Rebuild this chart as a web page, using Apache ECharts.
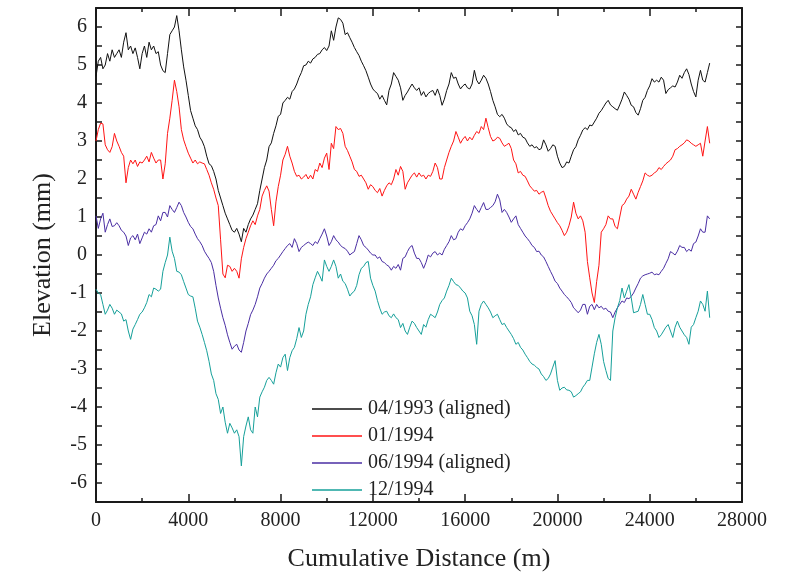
<!DOCTYPE html>
<html>
<head>
<meta charset="utf-8">
<script src="https://cdn.jsdelivr.net/npm/echarts@6/dist/echarts.min.js"></script>
<style>
  html, body { margin: 0; padding: 0; background: #fff; }
  #chart { width: 787px; height: 577px; }
</style>
</head>
<body>
<div id="chart"></div>
<script>
// distances are sampled every 100 m from 0 m
const stepM = 100;
const seriesNames = ["04/1993 (aligned)", "01/1994", "06/1994 (aligned)", "12/1994"];
const seriesColors = ["#111111", "#ff1414", "#4a2ea3", "#16a09a"];

const apr1993 = [
  4.7, 5.1, 5.2, 4.9, 5.0, 5.3, 5.1, 5.4, 5.2, 5.3,
  5.4, 5.2, 5.6, 5.85, 5.4, 5.5, 5.3, 5.45, 5.2, 4.9,
  5.3, 5.5, 5.2, 5.6, 5.4, 5.5, 5.3, 5.35, 5.0, 4.85,
  4.8, 5.3, 5.8, 5.9, 6.0, 6.3, 5.9, 5.4, 4.95, 4.6,
  4.2, 3.8, 3.6, 3.4, 3.3, 3.1, 3.0, 2.85, 2.6, 2.4,
  2.35, 2.2, 2.0, 1.7, 1.5, 1.3, 1.1, 0.95, 0.8, 0.65,
  0.6, 0.7, 0.55, 0.35, 0.7, 0.6, 0.8, 0.95, 1.05, 1.2,
  1.35, 1.7, 2.0, 2.3, 2.5, 2.85, 2.95, 3.2, 3.4, 3.65,
  3.7, 4.0, 4.07, 4.15, 4.1, 4.3, 4.37, 4.5, 4.67, 4.8,
  4.98, 5.0, 5.1, 5.05, 5.16, 5.2, 5.28, 5.3, 5.4, 5.46,
  5.38, 5.5, 5.9, 5.65, 6.0, 6.24, 6.2, 6.1, 5.8, 5.85,
  5.72, 5.6, 5.46, 5.35, 5.25, 5.1, 4.98, 4.85, 4.68, 4.5,
  4.37, 4.3, 4.25, 4.1, 4.2, 4.07, 3.95, 4.33, 4.5, 4.8,
  4.7, 4.6, 4.4, 4.07, 4.2, 4.29, 4.4, 4.5, 4.4, 4.33,
  4.4, 4.2, 4.3, 4.16, 4.25, 4.3, 4.33, 4.2, 4.37, 4.2,
  3.94, 4.1, 4.33, 4.5, 4.8, 4.65, 4.68, 4.5, 4.37, 4.45,
  4.5, 4.4, 4.37, 4.5, 4.86, 4.6, 4.5, 4.6, 4.73, 4.65,
  4.5, 4.3, 4.07, 3.9, 3.7, 3.64, 3.7, 3.6, 3.45, 3.38,
  3.35, 3.25, 3.3, 3.16, 3.2, 3.1, 3.07, 2.95, 2.86, 2.9,
  2.82, 2.85, 2.77, 2.8, 3.03, 2.9, 2.73, 2.8, 2.9, 2.86,
  2.6, 2.42, 2.3, 2.33, 2.45, 2.42, 2.6, 2.77, 2.85, 3.03,
  3.15, 3.29, 3.35, 3.3, 3.42, 3.4, 3.5, 3.6, 3.73, 3.8,
  3.9, 4.0, 4.07, 3.95, 3.9, 3.85, 3.81, 3.95, 4.1, 4.29,
  4.2, 4.1, 3.94, 3.9, 3.75, 3.68, 3.85, 4.07, 4.15, 4.33,
  4.45, 4.64, 4.55, 4.6, 4.55, 4.68, 4.6, 4.25, 4.35, 4.4,
  4.45, 4.42, 4.55, 4.73, 4.65, 4.8, 4.9, 4.75, 4.5, 4.3,
  4.16, 4.6, 4.86, 4.6, 4.55, 4.8, 5.05
];

const jan1994 = [
  3.0, 3.3, 3.47, 3.45, 2.9, 2.77, 2.7, 2.85, 3.2, 3.0,
  2.86, 2.7, 2.6, 1.9, 2.3, 2.5, 2.4, 2.5, 2.33, 2.45,
  2.42, 2.5, 2.6, 2.45, 2.7, 2.55, 2.42, 2.5, 2.5, 2.0,
  2.4, 3.2, 3.6, 4.07, 4.6, 4.3, 3.9, 3.3, 3.03, 2.85,
  2.68, 2.55, 2.42, 2.5, 2.4, 2.45, 2.42, 2.4, 2.25, 2.1,
  1.9, 1.73, 1.5, 1.3, 0.4, -0.5, -0.6, -0.27, -0.3, -0.43,
  -0.35, -0.43, -0.61, -0.1, 0.2, 0.43, 0.6, 0.77, 0.9, 0.8,
  1.03, 1.2, 1.55, 1.7, 1.82, 1.68, 1.2, 0.77, 1.4, 1.8,
  2.1, 2.5, 2.65, 2.86, 2.6, 2.42, 2.2, 2.07, 2.1, 2.0,
  2.05, 2.12, 2.0, 2.1, 2.0, 2.25, 2.2, 2.42, 2.3, 2.55,
  2.68, 2.25, 2.94, 2.8, 3.38, 3.3, 3.33, 3.2, 2.86, 2.75,
  2.6, 2.45, 2.25, 2.2, 2.07, 2.1, 2.0, 1.9, 1.73, 1.85,
  1.8, 1.7, 1.64, 1.75, 1.55, 1.7, 1.82, 1.9, 1.85, 2.0,
  2.25, 2.1, 2.33, 2.2, 1.73, 1.9, 2.0, 2.1, 2.16, 2.05,
  2.16, 2.07, 2.1, 2.0, 2.1, 2.07, 2.2, 2.42, 2.3, 2.0,
  2.0, 2.3, 2.5, 2.7, 2.86, 3.0, 3.25, 3.1, 2.94, 3.05,
  3.12, 3.0, 3.1, 3.03, 3.15, 3.25, 3.2, 3.38, 3.3, 3.6,
  3.35, 3.12, 3.0, 3.03, 3.1, 3.07, 2.95, 2.86, 2.9, 2.94,
  2.8, 2.5, 2.4, 2.16, 2.2, 2.1, 2.07, 1.95, 1.82, 1.75,
  1.68, 1.7, 1.6, 1.65, 1.68, 1.5, 1.3, 1.15, 1.05, 0.95,
  0.85, 0.77, 0.65, 0.51, 0.6, 0.77, 1.0, 1.39, 1.1, 0.95,
  1.03, 0.9, 0.6, -0.17, -0.6, -1.0, -1.25, -0.7, -0.27, 0.6,
  0.69, 0.8, 1.03, 0.95, 0.95, 0.75, 0.69, 1.0, 1.3, 1.35,
  1.47, 1.55, 1.73, 1.6, 1.47, 1.65, 1.8, 1.95, 2.16, 2.1,
  2.07, 2.1, 2.16, 2.2, 2.3, 2.25, 2.33, 2.4, 2.45, 2.5,
  2.6, 2.77, 2.8, 2.86, 2.9, 2.95, 3.03, 3.0, 2.94, 2.9,
  2.86, 2.9, 2.94, 2.6, 3.0, 3.38, 2.94
];

const jun1994 = [
  1.03, 0.7, 0.95, 1.1, 0.6, 0.8, 0.95, 0.75, 0.77, 0.85,
  0.77, 0.65, 0.6, 0.5, 0.25, 0.45, 0.51, 0.4, 0.55, 0.3,
  0.45, 0.6, 0.55, 0.69, 0.6, 0.77, 0.8, 1.03, 0.9, 1.12,
  1.12, 1.0, 1.3, 1.2, 1.12, 1.25, 1.39, 1.3, 1.12, 1.0,
  0.86, 0.75, 0.69, 0.55, 0.43, 0.35, 0.25, 0.1, 0.0, -0.09,
  -0.2, -0.43, -0.8, -1.13, -1.4, -1.65, -1.85, -2.1, -2.3, -2.48,
  -2.4, -2.35, -2.5, -2.56, -2.3, -2.0, -1.8, -1.57, -1.45, -1.3,
  -1.1, -0.87, -0.75, -0.61, -0.5, -0.43, -0.35, -0.27, -0.15, -0.09,
  0.0, 0.09, 0.17, 0.25, 0.3, 0.2, 0.43, 0.3, 0.09, 0.2,
  0.25, 0.3, 0.34, 0.3, 0.25, 0.35, 0.3, 0.43, 0.55, 0.69,
  0.5, 0.25, 0.35, 0.51, 0.4, 0.34, 0.25, 0.2, 0.17, 0.1,
  0.0, 0.05, 0.09, 0.3, 0.51, 0.4, 0.25, 0.2, 0.13, 0.05,
  0.0, 0.0, -0.09, -0.05, -0.17, -0.2, -0.26, -0.3, -0.4, -0.3,
  -0.35, -0.25, -0.4, -0.09, -0.05, 0.09, 0.2, 0.25, 0.05, -0.09,
  -0.09, -0.2, -0.35, -0.2, 0.0, -0.05, 0.05, 0.09, 0.0, 0.05,
  0.0, 0.15, 0.25, 0.35, 0.51, 0.4, 0.43, 0.6, 0.69, 0.65,
  0.77, 0.85, 0.95, 1.1, 1.3, 1.2, 1.12, 1.25, 1.38, 1.2,
  1.2, 1.25, 1.3, 1.4, 1.6, 1.45, 1.12, 1.2, 1.12, 1.0,
  0.86, 0.95, 1.03, 0.8, 0.7, 0.6, 0.5, 0.43, 0.35, 0.25,
  0.2, 0.09, 0.1, 0.0, -0.05, -0.17, -0.3, -0.43, -0.55, -0.69,
  -0.75, -0.87, -0.95, -1.04, -1.1, -1.17, -1.25, -1.39, -1.45, -1.52,
  -1.45, -1.3, -1.3, -1.56, -1.35, -1.3, -1.44, -1.3, -1.39, -1.35,
  -1.43, -1.4, -1.48, -1.5, -1.65, -1.5, -1.39, -1.3, -1.21, -1.25,
  -1.13, -1.15, -1.09, -1.0, -0.87, -0.75, -0.61, -0.55, -0.52, -0.5,
  -0.48, -0.45, -0.52, -0.5, -0.52, -0.43, -0.35, -0.22, -0.1, 0.09,
  0.05, 0.0, 0.1, 0.25, 0.2, 0.2, 0.09, 0.15, 0.1, 0.3,
  0.34, 0.5, 0.69, 0.6, 0.6, 1.03, 0.95
];

const dec1994 = [
  -0.9, -1.0, -1.04, -1.3, -1.56, -1.45, -1.3, -1.4, -1.56, -1.45,
  -1.5, -1.55, -1.74, -1.7, -2.0, -2.22, -1.95, -1.83, -1.7, -1.56,
  -1.5, -1.39, -1.25, -1.04, -1.1, -0.87, -0.9, -0.95, -0.9, -0.43,
  -0.2, 0.0, 0.47, 0.1, -0.09, -0.43, -0.45, -0.52, -0.7, -0.87,
  -1.04, -1.08, -1.1, -1.4, -1.74, -1.9, -2.09, -2.3, -2.52, -2.8,
  -3.13, -3.3, -3.65, -3.8, -4.17, -4.0, -4.4, -4.69, -4.43, -4.55,
  -4.69, -4.6, -4.78, -5.55, -4.78, -4.5, -4.26, -4.6, -4.69, -4.0,
  -4.26, -3.74, -3.6, -3.48, -3.3, -3.22, -3.3, -3.4, -3.1, -2.87,
  -2.95, -2.7, -2.61, -3.04, -2.7, -2.52, -2.43, -2.2, -1.91, -2.17,
  -2.0, -1.56, -1.3, -1.1, -0.78, -0.6, -0.43, -0.55, -0.69, -0.13,
  -0.3, -0.43, -0.3, -0.13, -0.3, -0.61, -0.5, -0.69, -0.75, -0.9,
  -1.08, -1.0, -0.95, -0.8, -0.52, -0.35, -0.3, -0.2, -0.17, -0.61,
  -0.8, -0.95, -1.2, -1.4, -1.56, -1.5, -1.48, -1.6, -1.65, -1.55,
  -1.65, -1.7, -1.91, -1.8, -2.0, -2.09, -1.9, -1.74, -1.8, -1.91,
  -2.0, -2.09, -1.83, -1.9, -1.7, -1.56, -1.6, -1.65, -1.5, -1.3,
  -1.2, -1.13, -0.95, -0.8, -0.61, -0.7, -0.78, -0.8, -0.87, -0.95,
  -1.0, -1.13, -1.48, -1.6, -1.83, -2.35, -1.48, -1.3, -1.21, -1.3,
  -1.39, -1.5, -1.65, -1.6, -1.56, -1.7, -1.83, -1.8, -1.91, -2.0,
  -2.09, -2.2, -2.35, -2.3, -2.43, -2.5, -2.61, -2.7, -2.8, -2.87,
  -2.9, -2.96, -3.0, -3.13, -3.2, -3.3, -3.25, -3.13, -2.95, -2.78,
  -3.3, -3.56, -3.5, -3.48, -3.55, -3.56, -3.6, -3.74, -3.7, -3.65,
  -3.6, -3.48, -3.4, -3.3, -3.3, -2.95, -2.6, -2.3, -2.09, -2.35,
  -2.8, -3.04, -3.25, -3.3, -2.0, -1.65, -1.39, -1.2, -0.87, -1.13,
  -0.95, -0.78, -1.13, -1.52, -1.5, -1.48, -1.3, -1.04, -1.3, -1.56,
  -1.56, -1.7, -1.91, -2.0, -2.17, -2.1, -2.0, -1.9, -1.83, -2.0,
  -2.17, -1.9, -1.74, -1.9, -2.0, -2.1, -2.17, -2.35, -1.9, -1.83,
  -1.65, -1.48, -1.21, -1.3, -1.48, -0.95, -1.65
];

const xTicks = { min: 0, max: 28000, interval: 4000 };
const yTicks = { min: -6.5, max: 6.5, interval: 0.5 };

const toPairs = (values) => values.map((v, i) => [i * stepM, v]);

const chart = echarts.init(document.getElementById("chart"), null, { renderer: "canvas" });

const font = "Liberation Serif";
const axisColor = "#1a1a1a";
const textColor = "#222";

const baseX = {
  type: "value",
  min: xTicks.min,
  max: xTicks.max,
  interval: xTicks.interval,
  axisLine: { show: true, onZero: false, lineStyle: { color: axisColor, width: 2 } },
  axisTick: { show: true, inside: true, length: 8, lineStyle: { color: axisColor, width: 1.5 } },
  minorTick: { show: true, splitNumber: 2, length: 4, lineStyle: { color: axisColor, width: 1.5 } },
  splitLine: { show: false },
  minorSplitLine: { show: false },
};

const baseY = {
  type: "value",
  min: yTicks.min,
  max: yTicks.max,
  interval: yTicks.interval,
  axisLine: { show: true, onZero: false, lineStyle: { color: axisColor, width: 2 } },
  axisTick: { show: true, inside: true, length: 6, lineStyle: { color: axisColor, width: 1.5 } },
  splitLine: { show: false },
};

const option = {
  animation: false,
  backgroundColor: "#fff",
  grid: { left: 96, right: 45, top: 8, bottom: 72 },
  legend: {
    orient: "vertical",
    left: 307,
    top: 394,
    icon: "rect",
    itemWidth: 50,
    itemHeight: 1.5,
    itemGap: 7,
    data: seriesNames,
    textStyle: { fontFamily: font, fontSize: 20, color: textColor, lineHeight: 20, padding: [0, 0, 0, 1] },
  },
  xAxis: [
    {
      ...baseX,
      position: "bottom",
      name: "Cumulative Distance (m)",
      nameLocation: "middle",
      nameGap: 44,
      nameTextStyle: { fontFamily: font, fontSize: 26, color: textColor },
      axisLabel: { fontFamily: font, fontSize: 20, color: textColor, margin: 9, formatter: (v) => String(v) },
    },
    { ...baseX, position: "top", axisLabel: { show: false } },
  ],
  yAxis: [
    {
      ...baseY,
      position: "left",
      name: "Elevation (mm)",
      nameLocation: "middle",
      nameGap: 40,
      nameTextStyle: { fontFamily: font, fontSize: 26, color: textColor },
      axisLabel: {
        fontFamily: font,
        fontSize: 20,
        color: textColor,
        margin: 9,
        formatter: (v) => (Number.isInteger(v) ? String(v) : ""),
      },
    },
    { ...baseY, position: "right", axisLabel: { show: false } },
  ],
  series: [apr1993, jan1994, jun1994, dec1994].map((vals, i) => ({
    name: seriesNames[i],
    type: "line",
    xAxisIndex: 0,
    yAxisIndex: 0,
    symbol: "none",
    data: toPairs(vals),
    lineStyle: { color: seriesColors[i], width: 1 },
    itemStyle: { color: seriesColors[i] },
  })),
};

chart.setOption(option);
</script>
</body>
</html>
